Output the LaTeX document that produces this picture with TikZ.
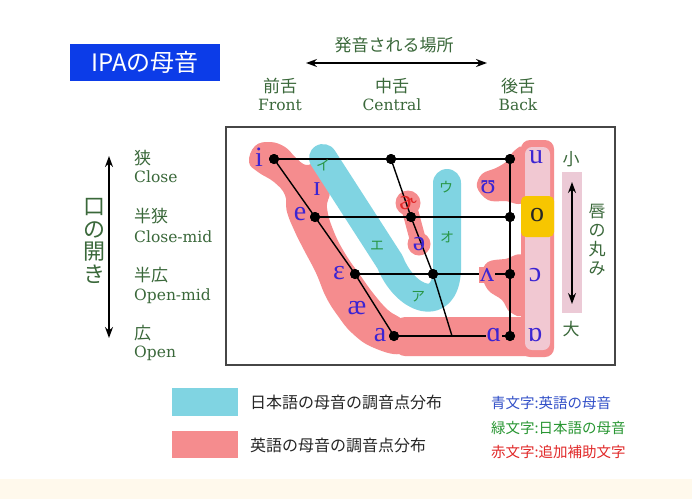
\documentclass[tikz,border=0pt]{standalone}
\usepackage{fontspec}
\setmainfont{Liberation Serif}
\newfontfamily\ipaf{Liberation Serif}
\newfontfamily\enf{DejaVu Serif}
\newfontfamily\jpf{Noto Sans CJK JP}
\usetikzlibrary{arrows.meta}
\definecolor{pinkr}{RGB}{245,140,142}
\definecolor{cyanb}{RGB}{128,212,226}
\definecolor{lightpk}{RGB}{241,200,210}
\definecolor{lipbar}{RGB}{236,202,214}
\definecolor{yel}{RGB}{247,198,0}
\definecolor{ipab}{RGB}{60,36,210}
\definecolor{dgreen}{RGB}{58,104,58}
\definecolor{kgreen}{RGB}{40,150,70}
\definecolor{redt}{RGB}{225,40,40}
\definecolor{titleb}{RGB}{12,60,232}
\definecolor{cream}{RGB}{255,249,236}
\definecolor{framec}{RGB}{70,70,70}
\definecolor{legblue}{RGB}{50,80,200}
\definecolor{leggreen}{RGB}{40,150,50}
\begin{document}
\begin{tikzpicture}[x=1pt,y=-1pt,
 dotn/.style={circle, fill=black, inner sep=0pt, minimum size=10pt},
 chart/.style={line width=1.4pt, black},
 ipa/.style={font=\ipaf\fontsize{28}{28}\selectfont, text=ipab, inner sep=0pt},
 kana/.style={font=\jpf\fontsize{14}{14}\selectfont, text=kgreen, inner sep=0pt},
 jpl/.style={font=\jpf\fontsize{17}{17}\selectfont, text=dgreen, inner sep=0pt},
 enl/.style={font=\enf\fontsize{15.5}{15.5}\selectfont, text=dgreen, inner sep=0pt},
 dar/.style={line width=1.4pt, {Stealth[length=11pt,width=8pt]}-{Stealth[length=11pt,width=8pt]}},
 legt/.style={font=\jpf\fontsize{16}{16}\selectfont, text=black!85, inner sep=0pt, anchor=west},
 legr/.style={font=\jpf\fontsize{14.5}{14.5}\selectfont, inner sep=0pt, anchor=west}]
\useasboundingbox (0,0) rectangle (692,499);
\fill[white] (0,0) rectangle (692,499);
\fill[cream] (0,479) rectangle (692,499);

% title
\node[fill=titleb, text=white, minimum width=150pt, minimum height=37pt, inner sep=0pt,
      font=\jpf\fontsize{24}{24}\selectfont] (title) at (145,62) {IPAの母音};

% top axis
\node[jpl] (place) at (394,45) {発音される場所};
\coordinate (hl) at (306,63);
\coordinate (hr) at (487,63);
\draw[dar] (hl) -- (hr);
\node[jpl] (fr1) at (280,86) {前舌};
\node[enl] (fr2) at (280,105) {Front};
\node[jpl] (ce1) at (392,86) {中舌};
\node[enl] (ce2) at (392,105) {Central};
\node[jpl] (ba1) at (518,86) {後舌};
\node[enl] (ba2) at (518,105) {Back};

% left axis
\coordinate (vt) at (109,156);
\coordinate (vb) at (109,338);
\draw[dar] (vt) -- (vb);
\node[font=\jpf\fontsize{22}{22.7}\selectfont, text=dgreen, align=center, inner sep=0pt] (kuchi) at (94,241) {口\\の\\開\\き};
\node[jpl, anchor=west] (l1a) at (134,158) {狭};
\node[enl, anchor=west] (l1b) at (134,177) {Close};
\node[jpl, anchor=west] (l2a) at (134,216) {半狭};
\node[enl, anchor=west] (l2b) at (134,237) {Close-mid};
\node[jpl, anchor=west] (l3a) at (134,275) {半広};
\node[enl, anchor=west] (l3b) at (134,296) {Open-mid};
\node[jpl, anchor=west] (l4a) at (134,333) {広};
\node[enl, anchor=west] (l4b) at (134,353) {Open};

% frame
\draw[framec, line width=1.6pt] (226,127) rectangle (615,365);

% pink (English) regions
\fill[pinkr] plot[smooth cycle, tension=0.7] coordinates {(249,162) (255,146) (270,142) (285,147) (296,158) (306,165) (317,163) (327,174) (330,192) (327,208) (334,232) (346,255) (360,275) (373,293) (388,310) (405,322) (412,340) (400,354) (372,347) (352,333) (338,316) (326,297) (316,273) (304,250) (295,232) (287,212) (285,195) (274,182) (258,172)};
\fill[pinkr, rounded corners=10pt] (395,317) rectangle (553,356);
\fill[pinkr] plot[smooth cycle, tension=0.6] coordinates {(477,187) (482,174) (496,168) (507,161) (514,151) (524,150) (524,200) (505,201) (488,200)};
\fill[pinkr] plot[smooth cycle, tension=0.6] coordinates {(482,274) (488,262) (505,259) (524,258) (524,312) (510,312) (502,300) (488,290)};
\fill[pinkr, rounded corners=9pt] (521,140) rectangle (554,357);
\fill[lightpk, rounded corners=7pt] (525,147) rectangle (550,350);
\fill[yel, rounded corners=5pt] (521,196) rectangle (554,237);
\fill[pinkr] (408,203) circle (12.5);
\fill[pinkr] (419,244) circle (11.5);
\draw[pinkr, line width=16pt] (408,203) -- (419,244);

% cyan (Japanese) region
\draw[cyanb, line width=28pt, line cap=round, line join=round]
  (323,158) -- (390,262) .. controls (405,300) and (445,315) .. (447,270) -- (447,183);

% lip rounding bar
\fill[lipbar] (562,172) rectangle (582,313);
\coordinate (lt) at (572,182);
\coordinate (lb) at (572,304);
\draw[dar] (lt) -- (lb);
\node[jpl] (small) at (571,159) {小};
\node[jpl] (large) at (571,329) {大};
\node[font=\jpf\fontsize{17}{19}\selectfont, text=dgreen, align=center, inner sep=0pt] (lips) at (597,240) {唇\\の\\丸\\み};

% chart dots
\node[dotn] (d11) at (274,159) {};
\node[dotn] (d12) at (391,159) {};
\node[dotn] (d13) at (510,159) {};
\node[dotn] (d21) at (315,217) {};
\node[dotn] (d22) at (411,217) {};
\node[dotn] (d23) at (510,217) {};
\node[dotn] (d31) at (355,274) {};
\node[dotn] (d32) at (433,274) {};
\node[dotn] (d33) at (510,274) {};
\node[dotn] (d41) at (394,336) {};
\node[dotn] (d43) at (510,336) {};
\coordinate (c4) at (452,336);

% chart lines
\draw[chart] (d11.center) -- (d13.center);
\draw[chart] (d21.center) -- (d23.center);
\draw[chart] (d31.center) -- (d33.center);
\draw[chart] (d41.center) -- (d43.center);
\draw[chart] (d11.center) -- (d21.center) -- (d31.center) -- (d41.center);
\draw[chart] (d12.center) -- (d22.center) -- (d32.center) -- (c4);
\draw[chart] (d13.center) -- (d43.center);
% redraw dots on top
\foreach \n in {d11,d12,d13,d21,d22,d23,d31,d32,d33,d41,d43} \fill[black] (\n) circle (5pt);

% Japanese vowels (green)
\node[kana] (ki) at (323,165) {イ};
\node[kana] (ku) at (446,187) {ウ};
\node[kana] (ke) at (377,246) {エ};
\node[kana] (ko) at (447,237) {オ};
\node[kana] (ka) at (418,297) {ア};

% English vowels (blue)
\node[ipa] (vi) at (259,157) {i};
\node[ipa] (vI) at (317,189) {ɪ};
\node[ipa] (ve) at (300,214) {e};
\node[ipa] (vE) at (339,273) {ɛ};
\node[ipa] (vae) at (357,308) {æ};
\node[ipa] (va) at (380,335) {a};
\node[ipa, text=redt] (vr) at (408,203) {ɚ};
\node[ipa] (vschwa) at (419,244) {ə};
\node[ipa] (vU) at (488,187) {ʊ};
\node[ipa, fill=pinkr, inner sep=1pt] (vV) at (487,275) {ʌ};
\node[ipa, fill=pinkr, inner sep=1pt] (vA) at (494,335) {ɑ};
\node[ipa] (vu) at (536,157) {u};
\node[ipa, text=black!85] (vo) at (537,215) {o};
\node[ipa] (vO) at (535,275) {ɔ};
\node[ipa] (vQ) at (535,335) {ɒ};

% legend
\fill[cyanb] (172,388) rectangle (238,416);
\node[legt] (lg1) at (250,402) {日本語の母音の調音点分布};
\fill[pinkr] (172,431) rectangle (238,458);
\node[legt] (lg2) at (250,445) {英語の母音の調音点分布};
\node[legr, text=legblue] (lr1) at (491,403) {青文字:英語の母音};
\node[legr, text=leggreen] (lr2) at (491,428) {緑文字:日本語の母音};
\node[legr, text=redt] (lr3) at (491,452) {赤文字:追加補助文字};
\end{tikzpicture}
\end{document}
